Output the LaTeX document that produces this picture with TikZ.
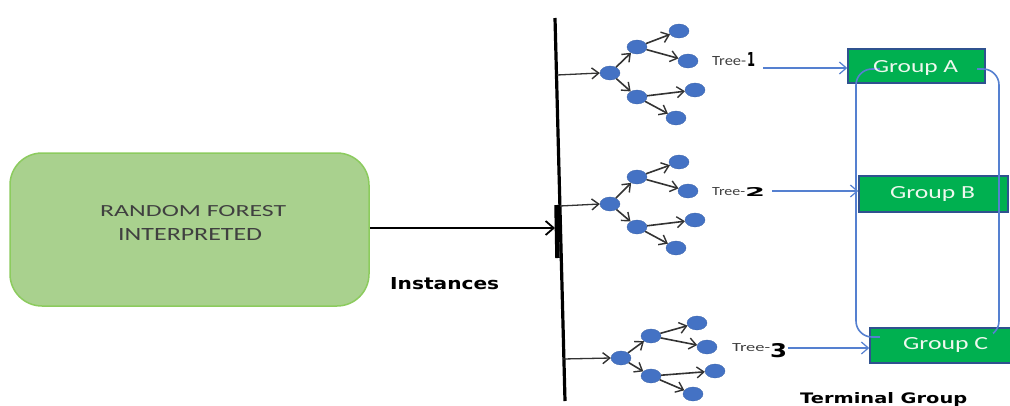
\documentclass[tikz,border=0pt]{standalone}
\usepackage{fontspec}
\setmainfont{Carlito}
\newfontfamily\boldsans{DejaVu Sans}
\usepackage{graphicx}
\usetikzlibrary{arrows.meta,shapes.geometric}
\definecolor{rffill}{HTML}{A9D18E}
\definecolor{rfdraw}{HTML}{8CCB5E}
\definecolor{rftext}{HTML}{404040}
\definecolor{grpfill}{HTML}{00B050}
\definecolor{grpdraw}{HTML}{2F528F}
\definecolor{grptext}{HTML}{EEF8EE}
\definecolor{nodeblue}{HTML}{4472C4}
\definecolor{linkblue}{HTML}{5580D0}
\newcommand{\fitto}[3]{\resizebox{#1pt}{#2pt}{#3}}
\begin{document}
\begin{tikzpicture}[x=1pt,y=-1pt,
  rfbox/.style={draw=rfdraw, line width=1.5pt, fill=rffill, rounded corners=32pt, minimum width=359pt, minimum height=153pt, inner sep=0},
  grpbox/.style={draw=grpdraw, line width=1.5pt, fill=grpfill, inner sep=0},
  tnode/.style={ellipse, fill=nodeblue, draw=nodeblue!85!black, line width=0.3pt, minimum width=20pt, minimum height=14pt, inner sep=0},
  tedge/.style={draw=black!80, line width=1.6pt, -{Straight Barb[length=7pt,width=11pt,line width=1.4pt]}},
  blink/.style={draw=linkblue, line width=1.3pt, -{Straight Barb[length=7pt,width=12pt,line width=1.2pt]}},
  mainarrow/.style={draw=black, line width=2pt, -{Straight Barb[length=8pt,width=14pt,line width=1.8pt]}},
  txt/.style={anchor=base west, inner sep=0},
]
\useasboundingbox (0,0) rectangle (1010,405);
\fill[white] (0,0) rectangle (1010,405);

% left box
\node[rfbox] (rf) at (189.5,229.5) {};
\node[txt, text=rftext] (rf1) at (100,216) {\fitto{186}{11}{RANDOM FOREST}};
\node[txt, text=rftext] (rf2) at (118,240) {\fitto{144}{12}{INTERPRETED}};

% vertical bar
\coordinate (vtop) at (555,18);
\coordinate (vbot) at (565,401);
\draw[line width=3.2pt] (vtop) -- (vbot);
\coordinate (vthA) at (556.5,205);
\coordinate (vthB) at (557.5,258);
\draw[line width=4.5pt] (vthA) -- (vthB);

% main arrow
\coordinate (inst) at (555,228);
\draw[mainarrow] (rf.east |- inst) -- (inst);
\node[txt] (instances) at (390,289) {\fitto{109}{12}{\boldsans\bfseries Instances}};

% tree 1
\node[tnode] (t1r) at (610,73) {};
\node[tnode] (t1u) at (637,47) {};
\node[tnode] (t1d) at (637,97) {};
\node[tnode] (t1a) at (679,31) {};
\node[tnode] (t1b) at (688,61) {};
\node[tnode] (t1c) at (695,90) {};
\node[tnode] (t1e) at (676,118) {};
\coordinate (b1) at (557,75);
% tree 2
\node[tnode] (t2r) at (610,204) {};
\node[tnode] (t2u) at (637,177) {};
\node[tnode] (t2d) at (637,227) {};
\node[tnode] (t2a) at (679,162) {};
\node[tnode] (t2b) at (688,191) {};
\node[tnode] (t2c) at (695,220) {};
\node[tnode] (t2e) at (676,248) {};
\coordinate (b2) at (560,206);
% tree 3
\node[tnode] (t3r) at (621,358) {};
\node[tnode] (t3u) at (651,336) {};
\node[tnode] (t3d) at (651,376) {};
\node[tnode] (t3a) at (697,323) {};
\node[tnode] (t3b) at (707,347) {};
\node[tnode] (t3c) at (715,371) {};
\node[tnode] (t3e) at (693,394) {};
\coordinate (b3) at (563,359);

\foreach \t/\b in {1/b1,2/b2,3/b3}{
  \draw[tedge, line width=1.3pt] (\b) -- (t\t r.west);
  \draw[tedge] (t\t r) -- (t\t u);
  \draw[tedge] (t\t r) -- (t\t d);
  \draw[tedge] (t\t u) -- (t\t a);
  \draw[tedge] (t\t u) -- (t\t b);
  \draw[tedge] (t\t d) -- (t\t c);
  \draw[tedge] (t\t d) -- (t\t e);
}

% tree labels
\node[txt, text=rftext] (tl1) at (712,65) {\fitto{34}{9}{Tree-}};
\node[txt] (tn1) at (747,66) {\fitto{8}{14}{\boldsans\bfseries 1}};
\node[txt, text=rftext] (tl2) at (712,195) {\fitto{33}{8}{Tree-}};
\node[txt] (tn2) at (745,196) {\fitto{20}{9}{\boldsans\bfseries 2}};
\node[txt, text=rftext] (tl3) at (732,351) {\fitto{38}{8}{Tree-}};
\node[txt] (tn3) at (770,357) {\fitto{17}{14}{\boldsans\bfseries 3}};

% group boxes
\node[grpbox, minimum width=137pt, minimum height=34pt] (gA) at (916.5,66) {};
\node[grpbox, minimum width=149pt, minimum height=36pt] (gB) at (933.5,194) {};
\node[grpbox, minimum width=142pt, minimum height=35pt] (gC) at (941,345.5) {};

% links
\coordinate (e1) at (763,68);
\coordinate (e2) at (772,191);
\coordinate (e3) at (788,348);
\draw[blink] (e1) -- (e1 -| gA.west);
\draw[blink] (e2) -- (e2 -| gB.west);
\draw[blink] (e3) -- (e3 -| gC.west);

% rounded group frame
\draw[draw=linkblue, line width=1.6pt, rounded corners=16pt] (856,69) rectangle (999,337);
\fill[grpfill] (880,60) rectangle (977,77);
\fill[grpfill] (880,333) rectangle (993,342);

\node[txt, text=grptext] (tA) at (873,72) {\fitto{85}{12}{Group A}};
\node[txt, text=grptext] (tB) at (890,198) {\fitto{85}{12}{Group B}};
\node[txt, text=grptext] (tC) at (903,349) {\fitto{85}{12}{Group C}};

\node[txt] (term) at (800,403) {\fitto{167}{11}{\boldsans\bfseries Terminal Group}};
\end{tikzpicture}
\end{document}
